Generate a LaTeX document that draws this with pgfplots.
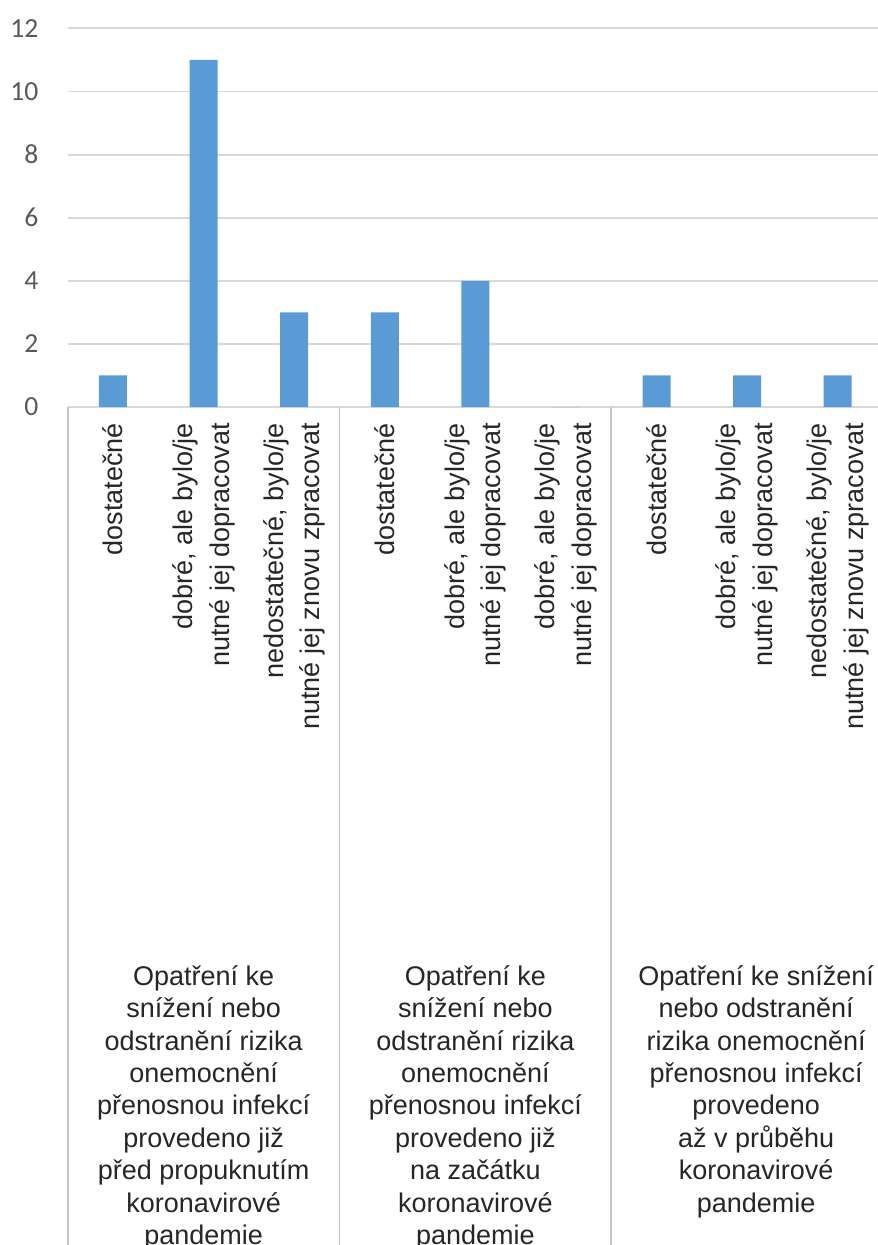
\documentclass[border=0pt]{standalone}
\usepackage{pgfplots}
\pgfplotsset{compat=1.18}
\usepackage{fontspec}
\setmainfont{Liberation Sans}
\newfontfamily\carlito{Carlito}
\definecolor{barblue}{HTML}{5B9BD5}
\definecolor{gridgray}{HTML}{D9D9D9}
\definecolor{sepgray}{HTML}{C6C6C6}
\definecolor{ticktext}{HTML}{595959}
\definecolor{cattext}{HTML}{262626}
\begin{document}
\begin{tikzpicture}
\begin{axis}[
  at={(0,0)}, anchor=south west,
  scale only axis, width=407.65pt, height=189.3pt,
  xmin=-0.5, xmax=8.5, ymin=0, ymax=12,
  clip=false,
  ybar, bar width=14pt,
  axis lines*=left,
  y axis line style={draw=none},
  x axis line style={draw=gridgray, line width=0.9pt},
  ymajorgrids, grid style={draw=gridgray, line width=0.9pt},
  ytick={0,2,...,12},
  xtick={0,...,8},
  xticklabels={{dostatečné},
    {dobré, ale bylo/je\\nutné jej dopracovat},
    {nedostatečné, bylo/je\\nutné jej znovu zpracovat},
    {dostatečné},
    {dobré, ale bylo/je\\nutné jej dopracovat},
    {dobré, ale bylo/je\\nutné jej dopracovat},
    {dostatečné},
    {dobré, ale bylo/je\\nutné jej dopracovat},
    {nedostatečné, bylo/je\\nutné jej znovu zpracovat}},
  major tick length=0pt,
  xtick align=outside,
  xticklabel style={rotate=90, anchor=east, align=right, inner sep=0pt,
    font=\fontsize{13.5}{18.3}\selectfont, text=cattext},
  xticklabel shift=8pt,
  yticklabel style={anchor=east, inner sep=0pt,
    font=\carlito\fontsize{13.8}{16}\selectfont, text=ticktext},
  yticklabel shift=14.5pt,
  /pgf/number format/assume math mode=true,
  extra x ticks={-0.5,2.5,5.5,8.5},
  extra x tick labels={},
  extra x tick style={grid=none, xtick align=outside, major tick length=440pt,
    tick style={draw=sepgray, line width=0.9pt}},
]
\addplot[fill=barblue, draw=none] coordinates {
  (0,1) (1,11) (2,3) (3,3) (4,4) (5,0) (6,1) (7,1) (8,1)};
\tikzset{grp/.style={anchor=north, align=center, inner sep=0pt, yshift=-279pt,
  font=\fontsize{13.5}{16.2}\selectfont, text=cattext}}
\node[grp] at (axis cs:1,0) {Opatření ke\\snížení nebo\\odstranění rizika\\onemocnění\\přenosnou infekcí\\provedeno již\\před propuknutím\\koronavirové\\pandemie};
\node[grp] at (axis cs:4,0) {Opatření ke\\snížení nebo\\odstranění rizika\\onemocnění\\přenosnou infekcí\\provedeno již\\na začátku\\koronavirové\\pandemie};
\node[grp] at (axis cs:7.1,0) {Opatření ke snížení\\nebo odstranění\\rizika onemocnění\\přenosnou infekcí\\provedeno\\až v průběhu\\koronavirové\\pandemie};
\end{axis}
\pgfresetboundingbox
\useasboundingbox (-33.85pt,-419pt) rectangle (404.65pt,203.5pt);
\end{tikzpicture}
\end{document}
